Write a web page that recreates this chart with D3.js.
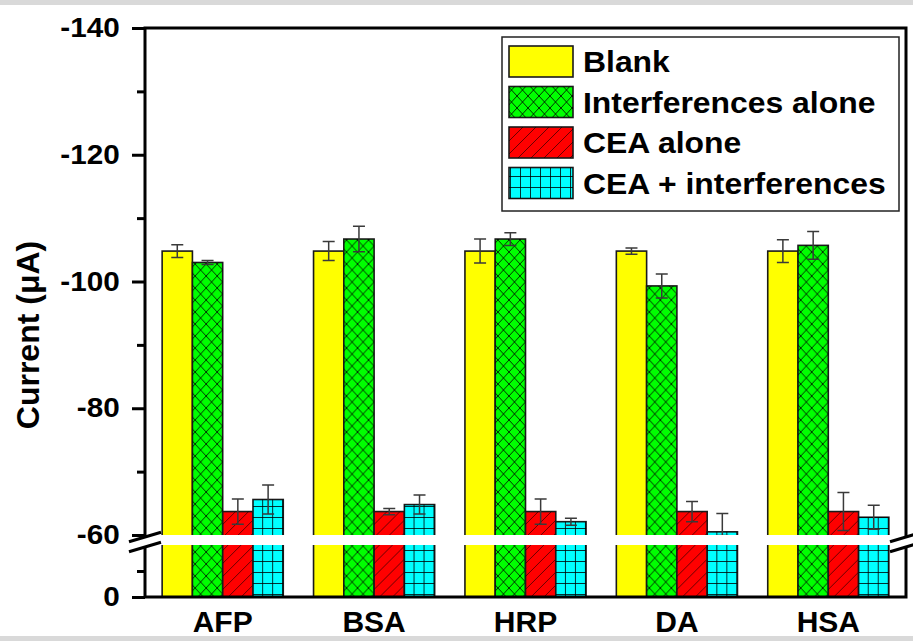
<!DOCTYPE html>
<html>
<head>
<meta charset="utf-8">
<script src="https://cdn.jsdelivr.net/npm/d3@7"></script>
<style>
  html, body { margin: 0; padding: 0; background: #fff; }
  svg { display: block; }
  text { font-family: "Liberation Sans", Arial, sans-serif; font-weight: bold; fill: #000; }
</style>
</head>
<body>
<svg id="chart" width="913" height="641"></svg>
<script>
// Interferent proteins / small molecules tested
const categories = ["AFP", "BSA", "HRP", "DA", "HSA"];

// Peak current (µA) for each condition, with standard deviations
const blank     = [-104.8, -104.8, -104.8, -104.8, -104.8];
const blankErr  = [1.0, 1.5, 1.9, 0.5, 1.8];
const interf    = [-103.0, -106.7, -106.7, -99.3, -105.7];
const interfErr = [0.3, 2.0, 1.0, 1.9, 2.2];
const ceaAlone  = [-63.7, -63.7, -63.7, -63.7, -63.7];
const ceaErr    = [2.0, 0.5, 2.0, 1.6, 3.0];
const ceaMix    = [-65.6, -64.8, -62.1, -60.5, -62.8];
const ceaMixErr = [2.3, 1.5, 0.55, 2.9, 1.9];

const seriesNames = ["Blank", "Interferences alone", "CEA alone", "CEA + interferences"];

// Broken y axis: 0…-20 below the break, -60…-140 above it
const majorTicks = [0, -60, -80, -100, -120, -140];
const minorTicks = [-10, -70, -90, -110, -130];
const breakLow = -20, breakHigh = -60;

const series = [
  { name: seriesNames[0], values: blank,    errors: blankErr,  fill: "#ffff00", pattern: null },
  { name: seriesNames[1], values: interf,   errors: interfErr, fill: "#00ff00", pattern: "hatch-cross" },
  { name: seriesNames[2], values: ceaAlone, errors: ceaErr,    fill: "#ff0000", pattern: "hatch-diag" },
  { name: seriesNames[3], values: ceaMix,   errors: ceaMixErr, fill: "#00ffff", pattern: "hatch-grid" }
];

const svg = d3.select("#chart");
const W = 913, H = 641;
const plot = { left: 145, right: 906, top: 28, bottom: 597 };

// page bands
svg.append("rect").attr("x", 0).attr("y", 0).attr("width", W).attr("height", 5).attr("fill", "#d9d9d9");
svg.append("rect").attr("x", 0).attr("y", 636).attr("width", W).attr("height", 5).attr("fill", "#d9d9d9");

// hatch patterns
const defs = svg.append("defs");
const cross = defs.append("pattern").attr("id", "hatch-cross").attr("patternUnits", "userSpaceOnUse")
  .attr("width", 11).attr("height", 12);
cross.append("path").attr("d", "M0,0L11,12M11,0L0,12")
  .attr("stroke", "#000").attr("stroke-opacity", 0.8).attr("stroke-width", 1).attr("fill", "none");

const diag = defs.append("pattern").attr("id", "hatch-diag").attr("patternUnits", "userSpaceOnUse")
  .attr("width", 13).attr("height", 13);
diag.append("path").attr("d", "M0,13L13,0M-3,3L3,-3M10,16L16,10")
  .attr("stroke", "#000").attr("stroke-opacity", 0.65).attr("stroke-width", 0.9).attr("fill", "none");

const grid = defs.append("pattern").attr("id", "hatch-grid").attr("patternUnits", "userSpaceOnUse")
  .attr("width", 10).attr("height", 11);
grid.append("path").attr("d", "M0.5,0V11M0,0.5H10")
  .attr("stroke", "#000").attr("stroke-opacity", 0.8).attr("stroke-width", 1).attr("fill", "none");

// scales
const x = d3.scaleBand().domain(categories).range([147, 904]).paddingInner(0.2).paddingOuter(0.1);
const xs = d3.scaleBand().domain(seriesNames).range([0, x.bandwidth()]);
const y = d3.scaleLinear()
  .domain([0, breakLow, breakHigh, -140])
  .range([plot.bottom, 545, 535, plot.top]);

// bars
const groups = svg.append("g").selectAll("g").data(categories).join("g")
  .attr("transform", d => `translate(${x(d)},0)`);

series.forEach(s => {
  groups.append("rect")
    .attr("x", xs(s.name))
    .attr("width", xs.bandwidth())
    .attr("y", (d, i) => y(s.values[i]))
    .attr("height", (d, i) => y(0) - y(s.values[i]))
    .attr("fill", s.fill)
    .attr("stroke", "#1a1a1a").attr("stroke-width", 1.6);
  if (s.pattern) {
    groups.append("rect")
      .attr("x", xs(s.name))
      .attr("width", xs.bandwidth())
      .attr("y", (d, i) => y(s.values[i]))
      .attr("height", (d, i) => y(0) - y(s.values[i]))
      .attr("fill", `url(#${s.pattern})`);
  }
});

// error bars
const cap = 6;
series.forEach(s => {
  const cx = xs(s.name) + xs.bandwidth() / 2;
  const eb = groups.append("g").attr("stroke", "#3a3a3a").attr("stroke-width", 1.5).attr("fill", "none");
  eb.append("path").attr("d", (d, i) => {
    const v = s.values[i], e = s.errors[i];
    const y1 = y(v - e), y2 = y(v + e);
    return `M${cx},${y1}V${y2}M${cx - cap},${y1}H${cx + cap}M${cx - cap},${y2}H${cx + cap}`;
  });
});

// white gap of the axis break across the plot
svg.append("rect").attr("x", plot.left + 2).attr("y", y(breakHigh)).attr("width", plot.right - plot.left - 4)
  .attr("height", y(breakLow) - y(breakHigh)).attr("fill", "#fff");

// frame
svg.append("path")
  .attr("d", `M${plot.left},${plot.bottom}V${plot.top}H${plot.right}V${plot.bottom}Z`)
  .attr("fill", "none").attr("stroke", "#000").attr("stroke-width", 3);

// left axis, major ticks with labels
const yAxis = svg.append("g").attr("transform", `translate(${plot.left},0)`)
  .call(d3.axisLeft(y).tickValues(majorTicks).tickSize(13).tickSizeOuter(0).tickPadding(10)
    .tickFormat(d => String(d)));
yAxis.select(".domain").remove();
yAxis.selectAll("line").attr("stroke", "#000").attr("stroke-width", 3);
yAxis.selectAll("text").style("font-size", "27px").attr("transform", "scale(1.1,1)");

// left axis, minor ticks
const yMinor = svg.append("g").attr("transform", `translate(${plot.left},0)`)
  .call(d3.axisLeft(y).tickValues(minorTicks).tickSize(8).tickSizeOuter(0).tickFormat(""));
yMinor.select(".domain").remove();
yMinor.selectAll("line").attr("stroke", "#000").attr("stroke-width", 3);

// bottom axis labels
const xAxis = svg.append("g").attr("transform", `translate(0,${plot.bottom})`)
  .call(d3.axisBottom(x).tickSize(0).tickPadding(14));
xAxis.select(".domain").remove();
xAxis.selectAll("text").style("font-size", "30px").attr("dy", "0.71em");

// break marks on both vertical edges
function breakMark(cx) {
  const half = 16, slope = 0.3;
  const yA = y(breakHigh) + 2, yB = y(breakLow) + 2;
  const g = svg.append("g");
  g.append("path")
    .attr("d", `M${cx - half},${yA + half * slope}L${cx + half},${yA - half * slope}L${cx + half},${yB - half * slope}L${cx - half},${yB + half * slope}Z`)
    .attr("fill", "#fff");
  [yA, yB].forEach(yy => {
    g.append("line")
      .attr("x1", cx - half).attr("y1", yy + half * slope)
      .attr("x2", cx + half).attr("y2", yy - half * slope)
      .attr("stroke", "#000").attr("stroke-width", 3);
  });
}
breakMark(plot.left);
breakMark(plot.right);

// y title
svg.append("text")
  .attr("transform", `translate(39,335) rotate(-90)`)
  .attr("text-anchor", "middle")
  .style("font-size", "32px")
  .text("Current (\u03BCA)");

// legend
const legend = svg.append("g");
legend.append("rect").attr("x", 502).attr("y", 37).attr("width", 397).attr("height", 174)
  .attr("fill", "#fff").attr("stroke", "#222").attr("stroke-width", 1.5);
const rowH = 40.5;
series.forEach((s, i) => {
  const top = 46 + i * rowH;
  legend.append("rect").attr("x", 509).attr("y", top).attr("width", 64).attr("height", 31)
    .attr("fill", s.fill).attr("stroke", "#1a1a1a").attr("stroke-width", 1.6);
  if (s.pattern) {
    legend.append("rect").attr("x", 509).attr("y", top).attr("width", 64).attr("height", 31)
      .attr("fill", `url(#${s.pattern})`);
  }
  legend.append("text")
    .attr("transform", `translate(583,${top + 26}) scale(1.1,1)`)
    .style("font-size", "29px")
    .text(s.name);
});
</script>
</body>
</html>
